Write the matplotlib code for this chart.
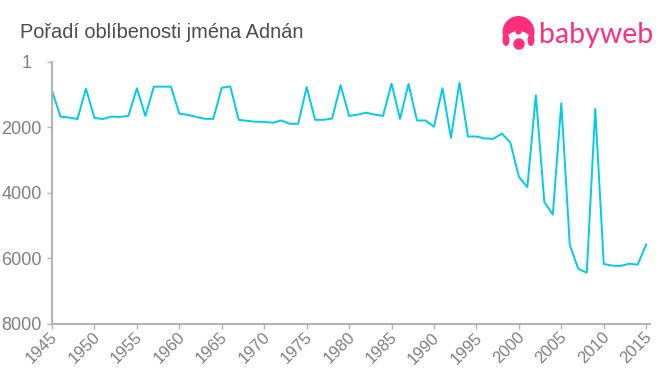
import matplotlib
matplotlib.use("Agg")
import matplotlib.pyplot as plt
from matplotlib.patches import Circle, Ellipse
from matplotlib.transforms import ScaledTranslation

years = list(range(1945, 2016))
ranks = [877, 1672, 1700, 1745, 815, 1713, 1745, 1672, 1680, 1650,
         805, 1650, 755, 755, 755, 1580, 1620, 1680, 1740, 1740,
         790, 750, 1770, 1800, 1830, 1830, 1860, 1790, 1890, 1890,
         770, 1770, 1770, 1730, 710, 1650, 1610, 1550, 1610, 1650,
         660, 1740, 670, 1790, 1790, 1980, 800, 2320, 630, 2280,
         2280, 2340, 2350, 2190, 2470, 3510, 3830, 1020, 4280, 4670,
         1260, 5600, 6330, 6445, 1440, 6180, 6230, 6240, 6170, 6200,
         5580]
x_ticks = list(range(1945, 2016, 5))
y_ticks = [1, 2000, 4000, 6000, 8000]
title = "Pořadí oblíbenosti jména Adnán"

W, H = 660, 375
plt.rcParams["font.family"] = ["Liberation Sans", "DejaVu Sans"]

fig = plt.figure(figsize=(W / 100, H / 100), dpi=100)
ax = fig.add_axes([52 / W, 1 - 323.5 / H, (650 - 52) / W, (323.5 - 62) / H])

ax.plot(years, ranks, color="#00cce8", linewidth=1.4, clip_on=False)
ax.set_xlim(1945, 2015.45)
ax.set_ylim(8000, 1)
ax.set_xticks(x_ticks)
ax.set_yticks(y_ticks)
ax.tick_params(axis="x", colors="#b3b3b3", length=3.5, width=1, labelcolor="#808080",
               labelsize=12, pad=1)
ax.tick_params(axis="y", colors="#b3b3b3", length=3.5, width=1, labelcolor="#808080",
               labelsize=13, pad=4)
plt.setp(ax.get_xticklabels(), rotation=45, ha="right", va="top", rotation_mode="anchor")

# x labels sit a little left of their ticks, the "1" label is not flush right
shift_x = ScaledTranslation(-2 / 100, 0, fig.dpi_scale_trans)
for lab in ax.get_xticklabels():
    lab.set_transform(lab.get_transform() + shift_x)
first = ax.get_yticklabels()[0]
first.set_transform(first.get_transform() + ScaledTranslation(-10 / 100, 0, fig.dpi_scale_trans))

ax.spines["top"].set_visible(False)
ax.spines["right"].set_visible(False)
ax.spines["left"].set_color("#b3b3b3")
ax.spines["bottom"].set_color("#b3b3b3")
ax.spines["left"].set_linewidth(1.5)
ax.spines["bottom"].set_linewidth(1.5)

fig.text(20 / W, 1 - 32 / H, title, fontsize=14.4, color="#4d4d4d", va="center", ha="left")

# logo, drawn in pixel coordinates
logo = fig.add_axes([0, 0, 1, 1], facecolor="none")
logo.set_xlim(0, W)
logo.set_ylim(H, 0)
logo.axis("off")
pink = "#ff2e7e"
logo.add_patch(Circle((518.5, 32), 16, color=pink, lw=0))
logo.add_patch(Ellipse((518.5, 45), 29, 28, color="white", lw=0))
logo.add_patch(Ellipse((506, 40), 7, 12, color=pink, lw=0))
logo.add_patch(Ellipse((531, 40), 7, 12, color=pink, lw=0))
logo.add_patch(Ellipse((518.5, 32), 6, 5, color=pink, lw=0))
logo.add_patch(Circle((519, 44), 5.7, color=pink, lw=0))
logo.text(539, 35, "babyweb", fontsize=20.5, color=pink, family="Lato",
          va="center", ha="left")

fig.savefig("out.png", dpi=100)
